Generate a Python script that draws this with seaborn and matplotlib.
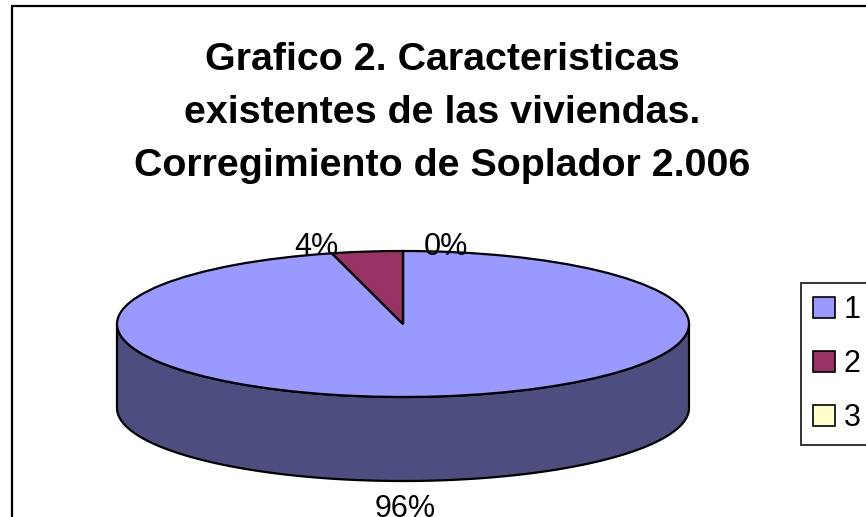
import numpy as np
import matplotlib
matplotlib.use("Agg")
import matplotlib.pyplot as plt
from matplotlib.patches import Rectangle, Patch
import seaborn as sns

# data
categories = ["1", "2", "3"]
values = [96, 4, 0]
pct_labels = ["96%", "4%", "0%"]
colors = ["#9999FF", "#993366", "#FFFFCC"]

title = "Grafico 2. Caracteristicas\nexistentes de las viviendas.\nCorregimiento de Soplador 2.006"

sns.set_theme(style="white")
plt.rcParams["font.family"] = ["Liberation Sans", "DejaVu Sans"]
plt.rcParams["text.color"] = "black"

W, H = 866, 517
fig = plt.figure(figsize=(W / 100, H / 100), dpi=100)
ax = fig.add_axes([0, 0, 1, 1])

# pie geometry in pixels (layout only)
cx, cy = 403, 324      # center of top face, px from left / from top
rx, ry = 286, 73       # ellipse half-axes
depth = 84 / ry        # wall height in y units

wedges, _ = ax.pie(values, colors=colors, startangle=90, counterclock=False, radius=1,
                   wedgeprops=dict(edgecolor="black", linewidth=1.6))
for w in wedges:
    w.set_zorder(3)
ax.set_aspect("auto")
ax.set_xlim(-cx / rx, (W - cx) / rx)
ax.set_ylim(-(H - cy) / ry, cy / ry)
ax.axis("off")

# side wall: front half of the rim, angles measured clockwise from top
total = sum(values)
start = 0.0
for v, c in zip(values, colors):
    end = start + 360.0 * v / total
    a0, a1 = max(start, 90.0), min(end, 270.0)
    if a1 > a0:
        t = np.radians(np.linspace(a0, a1, 200))
        xs = np.sin(t)
        ys = np.cos(t)
        px = np.concatenate([xs, xs[::-1]])
        py = np.concatenate([ys, ys[::-1] - depth])
        side = tuple(0.5 * np.array(matplotlib.colors.to_rgb(c)))
        ax.fill(px, py, facecolor=side, edgecolor="black", linewidth=1.6, zorder=2)
    start = end

# percentage labels (pixel layout: x center, y top)
label_pos = [(405, 494), (316, 232), (446, 232)]
for txt, (lx, ly) in zip(pct_labels, label_pos):
    fig.text(lx / W, 1 - ly / H, txt, ha="center", va="top", fontsize=22, color="black")

fig.text(442 / W, 1 - 113 / H, title, ha="center", va="center", fontsize=28.4,
         fontweight="bold", linespacing=1.62, color="black")

# chart area border
fig.patches.append(Rectangle((12 / W, -0.1), 1.2, 1 - 6 / H + 0.1, transform=fig.transFigure,
                             fill=False, edgecolor="black", linewidth=1.6))

handles = [Patch(facecolor=c, edgecolor="black", linewidth=1.2) for c in colors]
leg = fig.legend(handles, categories, loc="upper left",
                 bbox_to_anchor=(801 / W, 1 - 283 / H), fontsize=22,
                 frameon=True, fancybox=False, borderpad=0.4, labelspacing=0.78,
                 handlelength=0.7, handleheight=0.7, handletextpad=0.3,
                 borderaxespad=0)
leg.get_frame().set_edgecolor("black")
leg.get_frame().set_linewidth(1.4)
for t in leg.get_texts():
    t.set_color("black")

fig.savefig("out.png", dpi=100, facecolor="white")
